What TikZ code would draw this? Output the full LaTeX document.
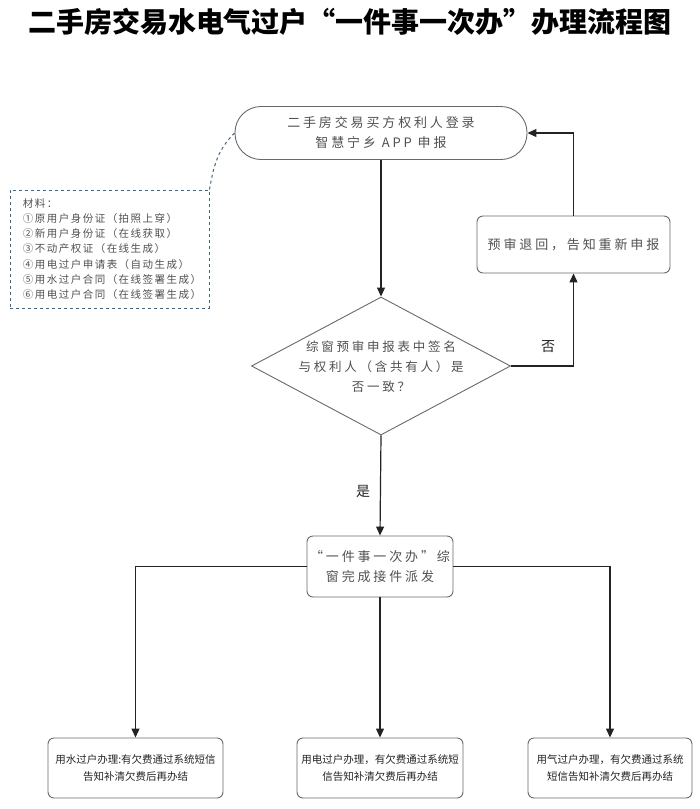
\documentclass[tikz,border=0pt]{standalone}
\usepackage{fontspec}
\usetikzlibrary{shapes.geometric,arrows.meta}
\newfontfamily\cjk{Noto Sans CJK SC}
\newfontfamily\cjkweit[LetterSpace=22]{Noto Sans CJK SC}
\newfontfamily\cjkmat[LetterSpace=14]{Noto Sans CJK SC}
\definecolor{rahmengrau}{RGB}{105,105,105}
\definecolor{textgrau}{RGB}{80,80,80}
\definecolor{liniengrau}{RGB}{35,35,35}
\definecolor{strichblau}{RGB}{70,100,135}

\tikzset{
  schritt/.style={draw=rahmengrau, line width=0.9pt, rounded corners=6pt, align=center,
    text=textgrau, font=\cjkweit\fontsize{13}{20}\selectfont, inner sep=0pt},
  ergebnis/.style={schritt, font=\cjk\fontsize{10.5}{17}\selectfont, text=liniengrau,
    minimum height=60pt},
  pfeil/.style={draw=liniengrau, line width=1.2pt, -{Triangle[length=9pt,width=8pt]}},
  marke/.style={font=\cjk\fontsize{14}{14}\selectfont, text=liniengrau}
}

\begin{document}
\begin{tikzpicture}[x=1pt,y=1pt]
		\useasboundingbox (0,0) rectangle (700,-809);

		% Ueberschrift
		\node[font=\cjk\bfseries\fontsize{28}{32}\selectfont] (titel) at (350,-22)
			{二手房交易水电气过户“一件事一次办”办理流程图};

		% Start und Materialliste (gestrichelt)
		\node[schritt, rounded corners=26pt, minimum width=292pt, minimum height=53pt] (start) at (381,-133)
			{二手房交易买方权利人登录\\智慧宁乡 APP 申报};
		\node[draw=strichblau, dashed, line width=1pt, minimum width=199pt, minimum height=118pt,
			text width=173pt, inner xsep=13pt, align=left, text=textgrau,
			font=\cjkmat\fontsize{10.5}{15.2}\selectfont] (material) at (109.5,-249)
			{材料：\\①原用户身份证（拍照上穿）\\②新用户身份证（在线获取）\\③不动产权证（在线生成）\\④用电过户申请表（自动生成）\\⑤用水过户合同（在线签署生成）\\⑥用电过户合同（在线签署生成）};
		\draw[strichblau, dashed, line width=1pt] (material.north east) to[out=80, in=225] (start.west);

		% Pruefung als Raute, Text separat darueber gelegt
		\node[draw=rahmengrau, line width=0.9pt, diamond, minimum width=259pt, minimum height=138pt, inner sep=0pt] (pruef) at (381,-366) {};
		\node[text=textgrau, align=center, font=\cjkweit\fontsize{12.5}{20}\selectfont] (prueftext) at (381,-367)
			{综窗预审申报表中签名\\与权利人（含共有人）是\\否一致？};

		% Rueckweisung
		\node[schritt, minimum width=193pt, minimum height=57pt] (zurueck) at (573.5,-244.5)
			{预审退回，告知重新申报};

		% Verteilung und die drei Ergebnisse
		\node[schritt, minimum width=146pt, minimum height=61pt] (verteil) at (380,-566.5)
			{“一件事一次办”综\\窗完成接件派发};
		\node[ergebnis, minimum width=175pt] (wasser) at (135.5,-768)
			{用水过户办理:有欠费通过系统短信\\告知补清欠费后再办结};
		\node[ergebnis, minimum width=166pt] (strom) at (380,-768)
			{用电过户办理，有欠费通过系统短\\信告知补清欠费后再办结};
		\node[ergebnis, minimum width=164pt] (gas) at (610,-768)
			{用气过户办理，有欠费通过系统\\短信告知补清欠费后再办结};

		% Verbindungen
		\draw[pfeil] (start) -- (pruef);
		\draw[pfeil] (pruef.east) -| (zurueck.south);
		\draw[pfeil] (zurueck.north) |- (start.east);
		\draw[pfeil] (pruef.south) -- (verteil.north);
		\draw[pfeil] (verteil.west) -| (wasser.north);
		\draw[pfeil] (verteil.south) -- (strom.north);
		\draw[pfeil] (verteil.east) -| (gas.north);

		% Ja/Nein an den Zweigen
		\node[marke] (nein) at (548,-347) {否};
		\node[marke] (ja) at (363,-491) {是};
	\end{tikzpicture}
\end{document}
